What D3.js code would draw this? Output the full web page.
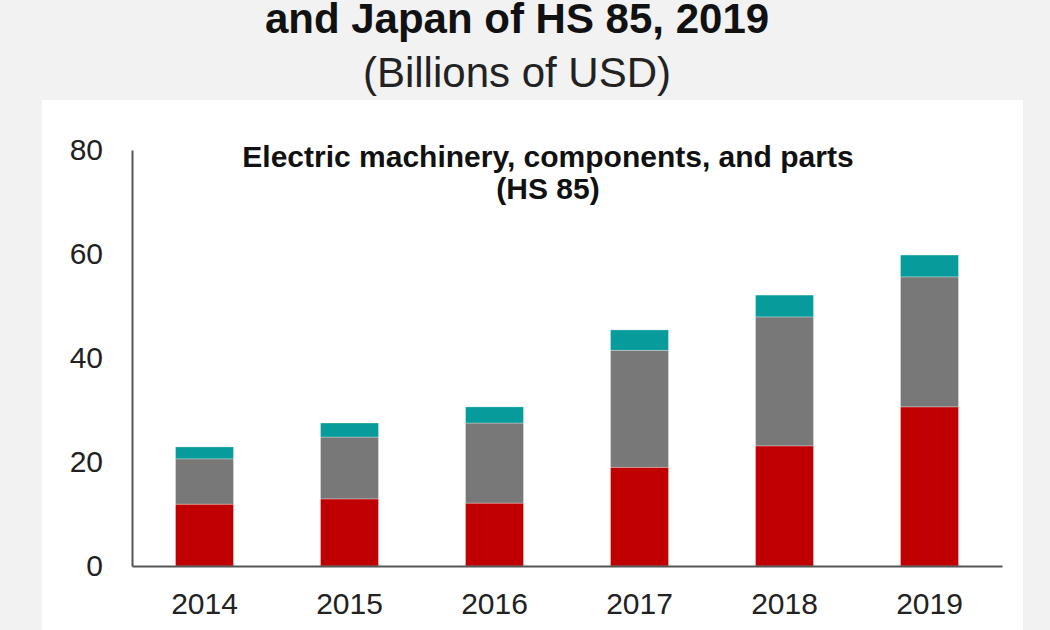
<!DOCTYPE html>
<html>
<head>
<meta charset="utf-8">
<script src="https://cdn.jsdelivr.net/npm/d3@7/dist/d3.min.js"></script>
<style>
  body { margin: 0; background: #f2f2f2; }
  svg { display: block; font-family: "Liberation Sans", Arial, sans-serif; }
</style>
</head>
<body>
<svg id="chart" width="1050" height="630"></svg>
<script>
// values in billions of USD
var years = ["2014", "2015", "2016", "2017", "2018", "2019"];
var redSeries = [11.9, 12.9, 12.1, 19.0, 23.1, 30.6];
var graySeries = [8.7, 11.9, 15.4, 22.5, 24.8, 25.0];
var tealSeries = [2.3, 2.7, 3.1, 3.9, 4.2, 4.2];
var yTicks = [0, 20, 40, 60, 80];

var keys = ["red", "gray", "teal"];
var colors = { red: "#c00000", gray: "#787878", teal: "#079b9b" };

var rows = years.map(function (y, i) {
  return { year: y, red: redSeries[i], gray: graySeries[i], teal: tealSeries[i] };
});

var svg = d3.select("#chart");

// white plot panel
svg.append("rect")
  .attr("x", 42).attr("y", 100)
  .attr("width", 981).attr("height", 530)
  .attr("fill", "#ffffff");

// titles
svg.append("text")
  .attr("x", 517).attr("y", 33)
  .attr("text-anchor", "middle")
  .attr("font-size", 42).attr("font-weight", "bold")
  .attr("fill", "#111")
  .text("and Japan of HS 85, 2019");
svg.append("text")
  .attr("x", 517).attr("y", 87)
  .attr("text-anchor", "middle")
  .attr("font-size", 42)
  .attr("fill", "#222")
  .text("(Billions of USD)");

var x = d3.scaleBand().domain(years).range([132, 1002]).paddingInner(0.6).paddingOuter(0.3);
var y = d3.scaleLinear().domain([0, 80]).range([566, 150]);

var stack = d3.stack().keys(keys)(rows);

svg.append("g").selectAll("g")
  .data(stack)
  .join("g")
  .attr("fill", function (d) { return colors[d.key]; })
  .selectAll("rect")
  .data(function (d) { return d; })
  .join("rect")
  .attr("x", function (d) { return x(d.data.year); })
  .attr("y", function (d) { return y(d[1]); })
  .attr("width", x.bandwidth())
  .attr("height", function (d) { return y(d[0]) - y(d[1]); })
  .attr("stroke", "#ffffff").attr("stroke-width", 0.6).attr("stroke-opacity", 0.5);

// y axis
var yAxis = svg.append("g")
  .attr("transform", "translate(132,0)")
  .call(d3.axisLeft(y).tickValues(yTicks).tickSize(0).tickPadding(29));
yAxis.select(".domain").attr("stroke", "#555").attr("stroke-width", 2);
yAxis.selectAll("text").attr("font-size", 30).attr("fill", "#222")
  .attr("font-family", "Liberation Sans, Arial, sans-serif");

// x axis
var xAxis = svg.append("g")
  .attr("transform", "translate(0,566)")
  .call(d3.axisBottom(x).tickSize(0).tickPadding(27));
xAxis.select(".domain").attr("stroke", "#555").attr("stroke-width", 2);
xAxis.selectAll("text").attr("font-size", 30).attr("fill", "#222")
  .attr("font-family", "Liberation Sans, Arial, sans-serif");

// inner chart title
svg.append("text")
  .attr("x", 548).attr("y", 167)
  .attr("text-anchor", "middle")
  .attr("font-size", 30).attr("font-weight", "bold").attr("fill", "#111")
  .text("Electric machinery, components, and parts");
svg.append("text")
  .attr("x", 548).attr("y", 199)
  .attr("text-anchor", "middle")
  .attr("font-size", 30).attr("font-weight", "bold").attr("fill", "#111")
  .text("(HS 85)");
</script>
</body>
</html>
